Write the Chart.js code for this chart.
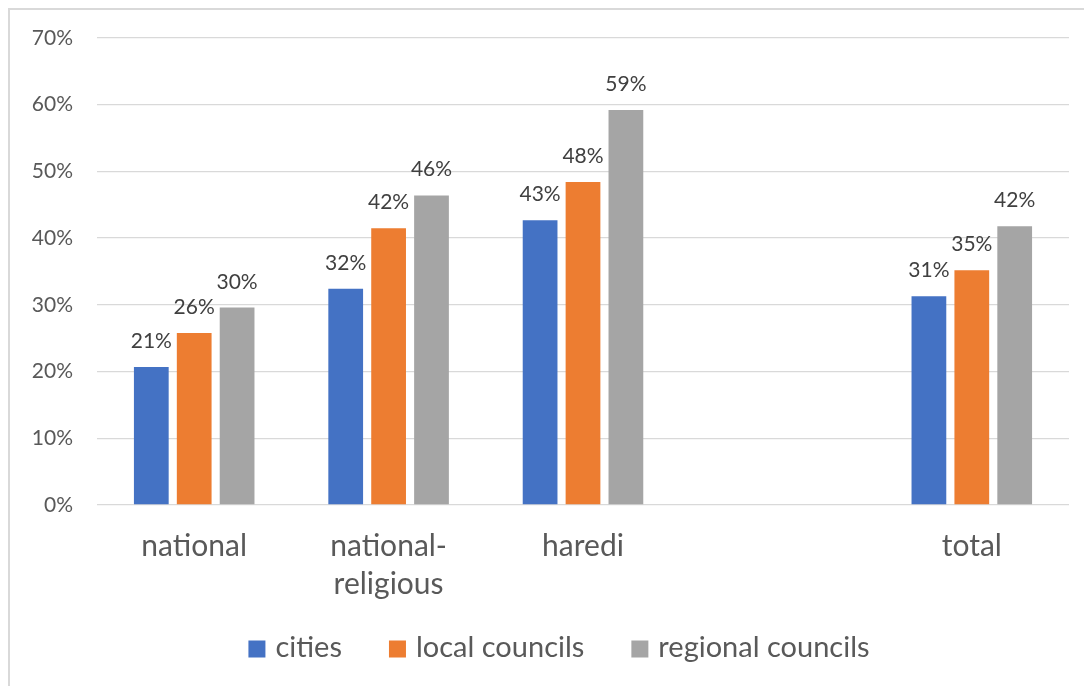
<!DOCTYPE html>
<html lang="en">
<head>
  <meta charset="UTF-8" />
  <title>Share by sector and authority type</title>
  <script src="https://cdn.jsdelivr.net/npm/chart.js"></script>
  <style>
    html, body {
      margin: 0;
      padding: 0;
      background: #fff;
      overflow: hidden;
    }
    #wrap {
      position: relative;
      width: 1084px;
      height: 686px;
    }
    #frame {
      position: absolute;
      left: 8px;
      top: 8px;
      width: 1100px;
      height: 700px;
      border: 2px solid #d9d9d9;
      pointer-events: none;
    }
  </style>
</head>
<body>
  <div id="wrap">
    <canvas id="chart" width="1084" height="686"></canvas>
    <div id="frame"></div>
  </div>

  <script>
    // categories (the empty slot keeps the gap before "total")
    const categories = ["national", ["national-", "religious"], "haredi", "", "total"];

    // percent values per type of authority
    const cities = [20.7, 32.4, 42.7, null, 31.3];
    const localCouncils = [25.8, 41.5, 48.4, null, 35.2];
    const regionalCouncils = [29.6, 46.4, 59.2, null, 41.8];

    const yTicks = [0, 10, 20, 30, 40, 50, 60, 70];

    const FONT = "Lato, 'Noto Sans', sans-serif";

    // prints the rounded value above each bar
    const barLabels = {
      id: "barLabels",
      afterDatasetsDraw(chart) {
        const ctx = chart.ctx;
        ctx.save();
        ctx.font = "21px " + FONT;
        ctx.fillStyle = "#404040";
        ctx.textAlign = "center";
        ctx.textBaseline = "alphabetic";
        chart.data.datasets.forEach((ds, i) => {
          const meta = chart.getDatasetMeta(i);
          meta.data.forEach((bar, j) => {
            const v = ds.data[j];
            if (v === null || v === undefined) return;
            ctx.fillText(Math.round(v) + "%", bar.x, bar.y - 19);
          });
        });
        ctx.restore();
      }
    };

    // legend row drawn in the bottom padding, centred under the chart
    const bottomLegend = {
      id: "bottomLegend",
      afterDraw(chart) {
        const ctx = chart.ctx;
        const box = 17, gapText = 10, gapItem = 47;
        const cx = 559, cy = 648;
        ctx.save();
        ctx.font = "29px " + FONT;
        ctx.textBaseline = "middle";
        ctx.textAlign = "left";
        const items = chart.data.datasets.map(ds => ({
          text: ds.label,
          color: ds.backgroundColor,
          w: ctx.measureText(ds.label).width
        }));
        const total = items.reduce((s, it) => s + box + gapText + it.w, 0) + gapItem * (items.length - 1);
        let x = cx - total / 2;
        items.forEach(it => {
          ctx.fillStyle = it.color;
          ctx.fillRect(x, cy - box / 2 + 1, box, box);
          ctx.fillStyle = "#595959";
          ctx.fillText(it.text, x + box + gapText, cy);
          x += box + gapText + it.w + gapItem;
        });
        ctx.restore();
      }
    };

    new Chart(document.getElementById("chart"), {
      type: "bar",
      data: {
        labels: categories,
        datasets: [
          { label: "cities", data: cities, backgroundColor: "#4472C4" },
          { label: "local councils", data: localCouncils, backgroundColor: "#ED7D31" },
          { label: "regional councils", data: regionalCouncils, backgroundColor: "#A5A5A5" }
        ]
      },
      options: {
        responsive: false,
        animation: false,
        categoryPercentage: 0.662,
        barPercentage: 0.81,
        layout: {
          padding: { left: 0, right: 15, top: 38, bottom: 86 }
        },
        plugins: {
          tooltip: { enabled: false },
          legend: { display: false }
        },
        scales: {
          x: {
            grid: { display: false },
            border: { display: false },
            ticks: {
              color: "#595959",
              font: { family: FONT, size: 30, lineHeight: 1.27 },
              maxRotation: 0,
              autoSkip: false,
              padding: 14
            },
            afterFit(scale) { scale.height = 95; }
          },
          y: {
            min: 0,
            max: 70,
            afterBuildTicks(scale) {
              scale.ticks = yTicks.map(v => ({ value: v }));
            },
            grid: { color: "#D9D9D9", lineWidth: 1.3, drawTicks: false },
            border: { display: false },
            ticks: {
              color: "#595959",
              font: { family: FONT, size: 21 },
              padding: 24,
              callback: v => v + "%"
            },
            afterFit(scale) { scale.width = 97; }
          }
        }
      },
      plugins: [barLabels, bottomLegend]
    });
  </script>
</body>
</html>
